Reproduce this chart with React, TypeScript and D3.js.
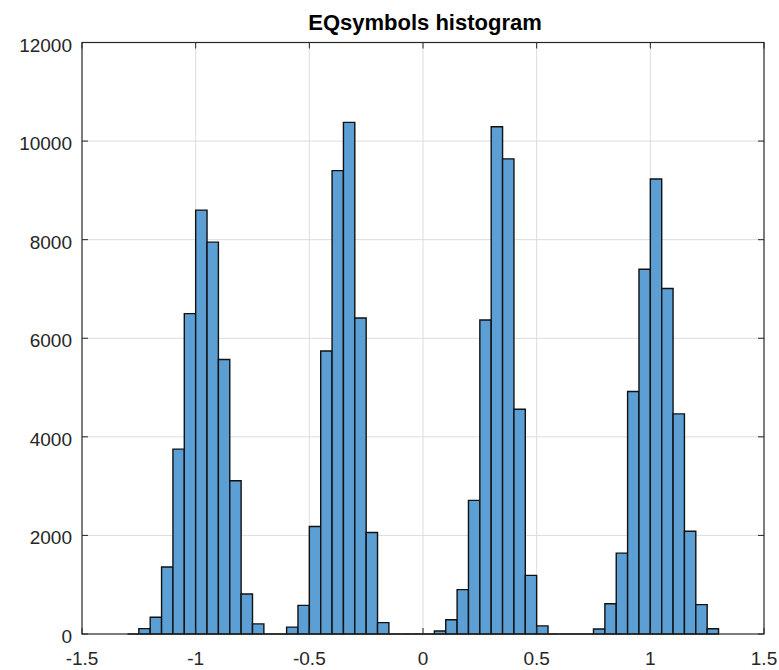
import React, { useEffect, useRef } from 'react';
import * as d3 from 'd3';

// histogram bin edges (width 0.05) and counts per bin
const binEdges = [
  -1.3, -1.25, -1.2, -1.15, -1.1, -1.05, -1.0, -0.95, -0.9, -0.85, -0.8, -0.75, -0.7,
  -0.65, -0.6, -0.55, -0.5, -0.45, -0.4, -0.35, -0.3, -0.25, -0.2, -0.15, -0.1, -0.05,
  0.0, 0.05, 0.1, 0.15, 0.2, 0.25, 0.3, 0.35, 0.4, 0.45, 0.5, 0.55, 0.6, 0.65,
  0.7, 0.75, 0.8, 0.85, 0.9, 0.95, 1.0, 1.05, 1.1, 1.15, 1.2, 1.25, 1.3,
];
const counts = [
  0, 110, 340, 1360, 3750, 6500, 8600, 7950, 5570, 3110, 810, 205,
  0, 0, 140, 580, 2180, 5740, 9400, 10380, 6410, 2060, 230,
  0, 0, 0, 0, 60, 290, 900, 2710, 6370, 10290, 9640, 4560, 1190, 165,
  0, 0, 0, 0, 100, 615, 1640, 4920, 7400, 9230, 7010, 4465, 2085, 595, 105,
];
const xTicks = [-1.5, -1, -0.5, 0, 0.5, 1, 1.5];
const yTicks = [0, 2000, 4000, 6000, 8000, 10000, 12000];
const title = 'EQsymbols histogram';

const App = () => {
  const svgRef = useRef<SVGSVGElement>(null);

  useEffect(() => {
    const width = 779;
    const height = 670;
    const margin = { top: 42.5, right: 15, bottom: 36, left: 82 };
    const w = width - margin.left - margin.right;
    const h = height - margin.top - margin.bottom;
    const font = 'Arial, "Liberation Sans", Helvetica, sans-serif';
    const axisColor = '#262626';

    svgRef.current!.innerHTML = '';

    const svg = d3.select(svgRef.current)
      .attr('width', width)
      .attr('height', height);

    svg.append('rect').attr('width', width).attr('height', height).attr('fill', '#fff');

    const g = svg.append('g')
      .attr('transform', `translate(${margin.left},${margin.top})`);

    const x = d3.scaleLinear().domain([-1.5, 1.5]).range([0, w]);
    const y = d3.scaleLinear().domain([0, 12000]).range([h, 0]);

    // grid
    g.append('g')
      .selectAll('line.vx')
      .data(xTicks.slice(1, -1))
      .enter()
      .append('line')
      .attr('x1', d => x(d)).attr('x2', d => x(d))
      .attr('y1', 0).attr('y2', h)
      .attr('stroke', '#dcdcdc').attr('stroke-width', 1);
    g.append('g')
      .selectAll('line.hy')
      .data(yTicks.slice(1, -1))
      .enter()
      .append('line')
      .attr('x1', 0).attr('x2', w)
      .attr('y1', d => y(d)).attr('y2', d => y(d))
      .attr('stroke', '#dcdcdc').attr('stroke-width', 1);

    // bars
    const bins = counts.map((c, i) => ({ x0: binEdges[i], x1: binEdges[i + 1], c }));
    g.append('g')
      .selectAll('path')
      .data(bins)
      .enter()
      .append('path')
      .attr('d', d => `M${x(d.x0)},${y(0)}V${y(d.c)}H${x(d.x1)}V${y(0)}Z`)
      .attr('fill', '#5c9fd4')
      .attr('stroke', '#111')
      .attr('stroke-width', 1.4);

    // box
    g.append('rect')
      .attr('x', 0).attr('y', 0).attr('width', w).attr('height', h)
      .attr('fill', 'none').attr('stroke', axisColor).attr('stroke-width', 1.2);

    // inward ticks on all four sides
    const tl = 6;
    const ticks = g.append('g').attr('stroke', axisColor).attr('stroke-width', 1);
    xTicks.forEach(t => {
      ticks.append('line').attr('x1', x(t)).attr('x2', x(t)).attr('y1', h).attr('y2', h - tl);
      ticks.append('line').attr('x1', x(t)).attr('x2', x(t)).attr('y1', 0).attr('y2', tl);
    });
    yTicks.forEach(t => {
      ticks.append('line').attr('x1', 0).attr('x2', tl).attr('y1', y(t)).attr('y2', y(t));
      ticks.append('line').attr('x1', w).attr('x2', w - tl).attr('y1', y(t)).attr('y2', y(t));
    });

    // tick labels
    g.append('g')
      .selectAll('text')
      .data(xTicks)
      .enter()
      .append('text')
      .attr('x', d => x(d))
      .attr('y', h + 31)
      .attr('text-anchor', 'middle')
      .attr('font-family', font)
      .attr('font-size', 19)
      .attr('fill', axisColor)
      .text(d => d3.format('')(d).replace('−', '-'));
    g.append('g')
      .selectAll('text')
      .data(yTicks)
      .enter()
      .append('text')
      .attr('x', -10)
      .attr('y', d => y(d) + 9)
      .attr('text-anchor', 'end')
      .attr('font-family', font)
      .attr('font-size', 19)
      .attr('fill', axisColor)
      .text(d => String(d));

    svg.append('text')
      .attr('x', margin.left + w / 2 + 2)
      .attr('y', 30)
      .attr('text-anchor', 'middle')
      .attr('font-family', font)
      .attr('font-weight', 'bold')
      .attr('font-size', 22)
      .attr('fill', '#000')
      .text(title);
  }, []);

  return (
    <svg ref={svgRef} style={{ position: 'absolute', left: 0, top: 0 }}></svg>
  );
};

export default App;
